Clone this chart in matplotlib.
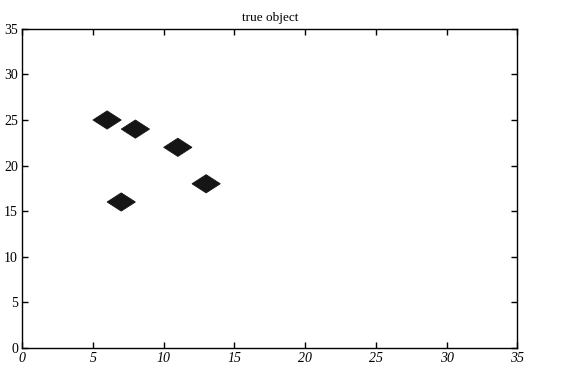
import numpy as np
import matplotlib
matplotlib.use("Agg")
import matplotlib.pyplot as plt
from matplotlib.patches import Polygon

# object centres (pixel coordinates of the true object)
obj_x = [6, 8, 11, 13, 7]
obj_y = [25, 24, 22, 18, 16]
half_width = 1.0

xticks = [0, 5, 10, 15, 20, 25, 30, 35]
yticks = [0, 5, 10, 15, 20, 25, 30, 35]

plt.rcParams['font.family'] = ['Liberation Serif', 'DejaVu Serif']

fig = plt.figure(figsize=(5.84, 3.70), dpi=100)
ax = fig.add_axes([0.038, 0.060, 0.848, 0.862])

for cx, cy in zip(obj_x, obj_y):
    d = half_width
    ax.add_patch(Polygon([(cx - d, cy), (cx, cy + d), (cx + d, cy), (cx, cy - d)],
                         closed=True, facecolor='#151515', edgecolor='#151515',
                         linewidth=0.6))

ax.set_xlim(0, 35)
ax.set_ylim(0, 35)
ax.set_xticks(xticks)
ax.set_yticks(yticks)
ax.tick_params(direction='in', length=4, width=1, top=True, right=True,
               labelsize=10, pad=3)
for s in ax.spines.values():
    s.set_linewidth(1.0)
for lab in ax.get_xticklabels():
    lab.set_fontstyle('italic')

ax.set_title("true object", fontsize=9.5, pad=6)

fig.savefig("out.png", dpi=100)
